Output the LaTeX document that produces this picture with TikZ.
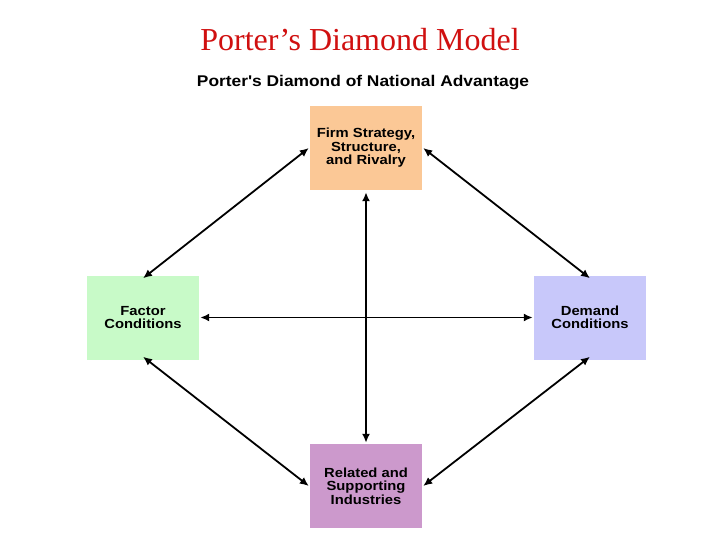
\documentclass[tikz,border=0pt]{standalone}
\usepackage{fontspec}
\setmainfont{Liberation Serif}
\newfontfamily\arialfont[FakeStretch=1.12]{Liberation Sans}
\usetikzlibrary{arrows.meta}
\definecolor{peach}{HTML}{FBC896}
\definecolor{mint}{HTML}{C8FAC8}
\definecolor{lav}{HTML}{C8C8FA}
\definecolor{orchid}{HTML}{CC99CC}
\definecolor{titlered}{HTML}{D01010}
\tikzset{
  factorbox/.style={minimum width=112pt,minimum height=84pt,inner sep=0pt,align=center,
    font=\arialfont\bfseries\fontsize{13.2}{13.5}\selectfont},
  link/.style={line width=1.8pt,{Latex[length=9pt,width=8pt]}-{Latex[length=9pt,width=8pt]}}
}
\begin{document}
\begin{tikzpicture}[x=1pt,y=-1pt]
\useasboundingbox (0,0) rectangle (720,540);
\node[font=\fontsize{32}{34}\selectfont,text=titlered] (title) at (360,40) {Porter’s Diamond Model};
\node[font=\arialfont\bfseries\fontsize{15.5}{17}\selectfont] (sub) at (363,83) {Porter's Diamond of National Advantage};
\node[factorbox,fill=peach] (firm) at (366,148) {Firm Strategy,\\Structure,\\and Rivalry};
\node[factorbox,fill=mint] (factor) at (143,317.5) {Factor\\Conditions};
\node[factorbox,fill=lav] (demand) at (590,317.5) {Demand\\Conditions};
\node[factorbox,fill=orchid] (related) at (366,486) {Related and\\Supporting\\Industries};
\draw[link] ([xshift=-1pt]firm.west) -- ([yshift=-3pt]factor.north);
\draw[link] ([xshift=1pt]firm.east) -- ([yshift=-3pt]demand.north);
\draw[link] ([yshift=3pt]factor.south) -- ([xshift=-1pt]related.west);
\draw[link] ([yshift=3pt]demand.south) -- ([xshift=1pt]related.east);
\draw[link] ([yshift=-2pt]firm.south) -- ([yshift=1pt]related.north);
\draw[link] ([xshift=1pt]factor.east) -- ([xshift=-1pt]demand.west);
\end{tikzpicture}
\end{document}
